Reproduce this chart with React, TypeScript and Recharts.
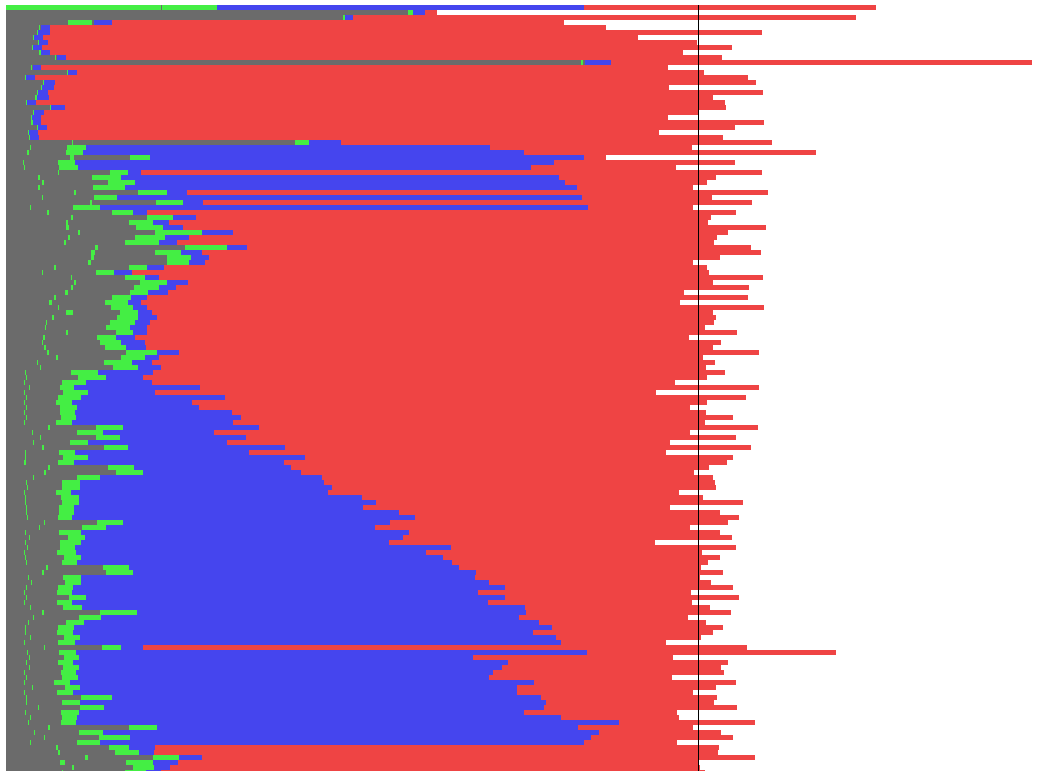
import { BarChart, Bar, XAxis, YAxis, ReferenceLine } from "recharts";

// Cumulative segment ends per row (same unit for all; target = 692.5)
const grayEnd = [
  0, 402, 337, 62, 33, 31, 27, 32, 26, 33, 49, 575, 25, 61, 19, 37, 35, 31, 29, 20,
  44, 27, 25, 25, 31, 22, 23, 66, 24, 21, 64, 17, 18, 52, 32, 36, 32, 68, 36, 84,
  24, 41, 65, 60, 60, 72, 62, 58, 89, 85, 85, 82, 48, 36, 65, 68, 65, 59, 48, 43,
  52, 60, 46, 40, 39, 60, 37, 36, 38, 41, 50, 31, 34, 19, 20, 18, 23, 18, 20, 18,
  20, 18, 20, 18, 42, 26, 34, 27, 36, 19, 19, 18, 42, 38, 27, 20, 21, 18, 19, 19,
  20, 20, 21, 38, 33, 19, 23, 19, 21, 18, 19, 20, 40, 36, 22, 25, 20, 18, 20, 18,
  24, 36, 27, 22, 19, 19, 24, 18, 38, 21, 23, 20, 23, 18, 20, 18, 26, 18, 20, 20,
  32, 19, 24, 22, 42, 28, 38, 24, 50, 52, 79, 54, 66, 56,
];

const tickEnd = [
  155, 402, 337, 86, 34, 32, 28, 33, 27, 35, 50, 577, 26, 62, 20, 38, 36, 32, 31, 21,
  45, 28, 26, 27, 32, 23, 24, 67, 25, 23, 68, 18, 19, 53, 34, 38, 34, 70, 37, 86,
  25, 43, 67, 62, 63, 74, 64, 60, 92, 89, 88, 85, 50, 37, 66, 70, 67, 62, 50, 46,
  53, 67, 48, 41, 40, 62, 39, 37, 40, 43, 52, 32, 35, 20, 21, 19, 24, 19, 21, 19,
  21, 19, 21, 19, 44, 27, 35, 28, 38, 20, 20, 20, 44, 40, 28, 21, 22, 19, 20, 20,
  21, 21, 22, 39, 34, 20, 24, 20, 22, 19, 20, 21, 42, 38, 23, 26, 21, 19, 21, 19,
  25, 38, 28, 23, 20, 20, 25, 19, 39, 22, 24, 21, 24, 19, 21, 19, 27, 19, 21, 21,
  33, 20, 25, 23, 44, 29, 39, 25, 52, 54, 82, 59, 68, 57,
];

const gapEnd = [
  156, 402, 337, 88, 35, 32, 28, 33, 27, 35, 51, 579, 27, 62, 20, 38, 36, 32, 31, 21,
  45, 28, 26, 27, 32, 23, 24, 289, 61, 60, 124, 52, 53, 104, 86, 102, 87, 132, 88, 150,
  67, 106, 141, 123, 130, 149, 129, 119, 179, 149, 161, 161, 123, 90, 119, 134, 128, 124, 106, 99,
  105, 114, 111, 104, 100, 110, 91, 94, 99, 120, 115, 98, 107, 65, 72, 56, 54, 57, 52, 50,
  54, 54, 55, 50, 90, 71, 90, 64, 98, 53, 57, 52, 102, 110, 71, 56, 56, 50, 55, 56,
  53, 53, 52, 91, 76, 53, 62, 54, 54, 51, 58, 56, 97, 100, 57, 59, 52, 51, 63, 51,
  57, 94, 73, 60, 52, 51, 58, 52, 96, 53, 58, 52, 57, 55, 56, 48, 59, 51, 75, 56,
  74, 55, 56, 55, 123, 73, 93, 71, 103, 109, 147, 120, 127, 119,
];

const greenEnd = [
  211, 407, 339, 88, 35, 32, 28, 33, 27, 35, 51, 579, 27, 62, 20, 38, 36, 32, 31, 21,
  45, 28, 26, 27, 32, 23, 24, 303, 80, 77, 144, 69, 72, 122, 115, 129, 119, 161, 111, 177,
  94, 127, 167, 147, 157, 196, 159, 153, 221, 175, 185, 183, 141, 108, 139, 161, 153, 142, 125, 122,
  127, 132, 132, 129, 124, 127, 110, 115, 120, 151, 139, 126, 132, 92, 100, 80, 68, 82, 75, 66,
  71, 69, 70, 66, 117, 97, 114, 82, 122, 69, 82, 68, 128, 137, 94, 74, 74, 65, 73, 73,
  68, 68, 66, 117, 100, 75, 79, 75, 69, 70, 75, 71, 123, 127, 75, 75, 67, 66, 80, 66,
  76, 131, 95, 78, 68, 67, 74, 69, 115, 70, 73, 67, 73, 70, 72, 64, 74, 67, 106, 74,
  98, 73, 71, 70, 151, 97, 124, 94, 123, 133, 173, 147, 148, 140,
];

const blueEnd = [
  578, 419, 347, 106, 44, 44, 37, 42, 36, 44, 60, 605, 35, 71, 29, 49, 48, 42, 43, 30,
  59, 38, 35, 35, 41, 32, 33, 335, 484, 518, 578, 548, 525, 135, 553, 559, 571, 181, 576, 197,
  582, 141, 190, 163, 177, 227, 183, 171, 241, 196, 203, 199, 158, 126, 153, 182, 170, 162, 141, 135,
  141, 146, 151, 144, 141, 141, 129, 139, 140, 173, 153, 146, 155, 147, 137, 146, 194, 149, 219, 186,
  193, 226, 235, 227, 253, 208, 240, 221, 279, 243, 299, 278, 285, 295, 316, 318, 326, 322, 356, 370,
  357, 393, 409, 384, 369, 403, 397, 383, 445, 420, 437, 446, 453, 470, 469, 483, 499, 472, 499, 482,
  519, 520, 513, 533, 546, 527, 550, 555, 137, 581, 467, 502, 496, 487, 483, 528, 511, 511, 535, 540,
  538, 518, 555, 613, 572, 593, 585, 578, 149, 148, 196, 172, 164, 155,
];

const totalEnd = [
  870, 431, 850, 558, 600, 756, 632, 691, 726, 677, 716, 1026, 662, 698, 742, 750, 663, 757, 707, 719,
  720, 692, 662, 758, 729, 653, 717, 766, 686, 810, 600, 729, 670, 756, 710, 701, 687, 762, 706, 746,
  687, 730, 705, 702, 760, 722, 711, 708, 745, 755, 714, 687, 701, 703, 757, 707, 743, 678, 742, 674,
  758, 707, 710, 708, 699, 731, 683, 715, 707, 753, 697, 709, 700, 719, 701, 669, 753, 650, 740, 701,
  684, 700, 727, 699, 752, 684, 730, 664, 745, 660, 727, 721, 703, 688, 707, 709, 710, 673, 697, 737,
  664, 714, 733, 722, 684, 714, 726, 649, 730, 696, 714, 702, 695, 717, 694, 705, 727, 685, 733, 686,
  704, 725, 682, 700, 717, 707, 695, 660, 741, 830, 667, 722, 715, 718, 666, 730, 710, 687, 711, 708,
  731, 671, 673, 749, 687, 715, 727, 671, 713, 712, 749, 692, 694, 699,
];

const TARGET = 692.5;
const SCALE_MAX = 1029;

const rows = grayEnd.map((g, i) => ({
  row: `R${i + 1}`,
  gray: g,
  tick: tickEnd[i] - g,
  gap: gapEnd[i] - tickEnd[i],
  green: greenEnd[i] - gapEnd[i],
  blue: blueEnd[i] - greenEnd[i],
  red: totalEnd[i] - blueEnd[i],
}));

const GRAY = "#6b6b6b";
const GREEN = "#44ee44";
const BLUE = "#4545ee";
const RED = "#ef4444";

export default function App() {
  return (
    <div
      style={{
        position: "fixed",
        left: 0,
        top: 0,
        width: 1041,
        height: 771,
        overflow: "hidden",
        background: "#fff",
      }}
    >
      <BarChart
        width={1041}
        height={775}
        data={rows}
        layout="vertical"
        margin={{ top: 5, right: 6, bottom: 0, left: 6 }}
        barCategoryGap={0}
        barGap={0}
      >
        <XAxis type="number" hide domain={[0, SCALE_MAX]} />
        <YAxis type="category" dataKey="row" hide />
        <Bar dataKey="gray" stackId="s" fill={GRAY} isAnimationActive={false} />
        <Bar dataKey="tick" stackId="s" fill={GREEN} isAnimationActive={false} />
        <Bar dataKey="gap" stackId="s" fill={GRAY} isAnimationActive={false} />
        <Bar dataKey="green" stackId="s" fill={GREEN} isAnimationActive={false} />
        <Bar dataKey="blue" stackId="s" fill={BLUE} isAnimationActive={false} />
        <Bar dataKey="red" stackId="s" fill={RED} isAnimationActive={false} />
        <ReferenceLine x={TARGET} stroke="#000" strokeWidth={1} />
      </BarChart>
    </div>
  );
}
